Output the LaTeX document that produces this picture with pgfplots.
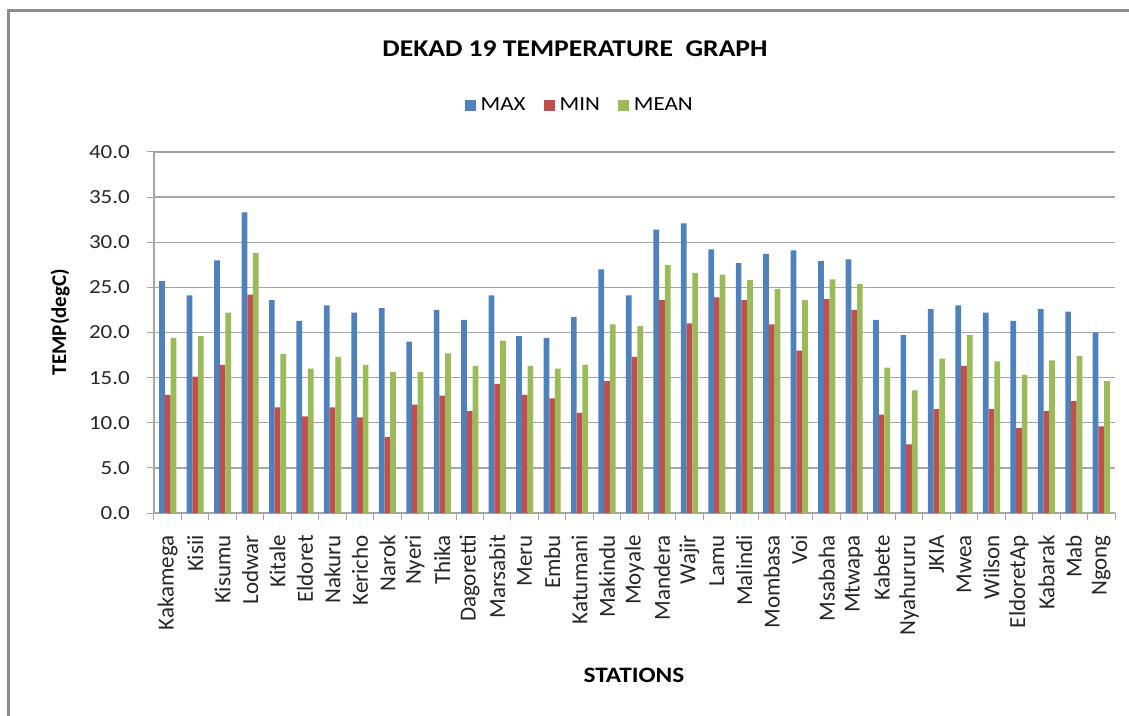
\documentclass[border=0pt]{standalone}
\usepackage{fontspec}
\setmainfont{Carlito}
\newfontfamily\wfont{Carlito}[FakeStretch=1.15]
\usepackage{pgfplots}
\usepackage{pgfplotstable}
\pgfplotsset{compat=1.18}
\definecolor{cmax}{HTML}{4F81BD}
\definecolor{cmin}{HTML}{C0504D}
\definecolor{cmean}{HTML}{9BBB59}
\definecolor{gridc}{HTML}{A6A6A6}
\definecolor{framec}{HTML}{8C8C8C}
\pgfplotstableread{
idx max min mean
0 25.7 13.1 19.4
1 24.1 15.1 19.6
2 28.0 16.4 22.2
3 33.3 24.2 28.8
4 23.6 11.7 17.6
5 21.3 10.7 16.0
6 23.0 11.7 17.3
7 22.2 10.6 16.4
8 22.7 8.4 15.6
9 19.0 12.0 15.6
10 22.5 13.0 17.7
11 21.4 11.3 16.3
12 24.1 14.3 19.1
13 19.6 13.1 16.3
14 19.4 12.7 16.0
15 21.7 11.1 16.4
16 27.0 14.6 20.9
17 24.1 17.3 20.7
18 31.4 23.6 27.5
19 32.1 21.0 26.6
20 29.2 23.9 26.4
21 27.7 23.6 25.8
22 28.7 20.9 24.8
23 29.1 18.0 23.6
24 27.9 23.7 25.9
25 28.1 22.5 25.4
26 21.4 10.9 16.1
27 19.7 7.6 13.6
28 22.6 11.5 17.1
29 23.0 16.3 19.7
30 22.2 11.5 16.8
31 21.3 9.4 15.3
32 22.6 11.3 16.9
33 22.3 12.4 17.4
34 20.0 9.6 14.6
}\data
\begin{document}
\begin{tikzpicture}[x=1pt,y=1pt]
\path[use as bounding box] (-154,-202) rectangle (975,513);
\draw[line width=3pt, color=framec] (-145,-215) -- (-145,502) -- (990,502);
\begin{axis}[
  at={(0,0)}, anchor=south west,
  scale only axis, width=961pt, height=361pt,
  ybar=0pt, bar width=5.7pt,
  xmin=-0.5, xmax=34.5, ymin=0, ymax=40,
  axis x line*=bottom, axis y line*=left,
  axis line style={draw=gridc, line width=1.3pt},
  ytick={0,5,...,40},
  ymajorgrids, major grid style={draw=gridc, line width=1.3pt},
  tick align=outside, major tick length=7pt, minor tick length=7pt,
  tick style={draw=gridc, line width=1pt},
  xtick={0,...,34},
  major x tick style={draw=none},
  minor xtick={-0.5,0.5,...,34.5},
  xticklabels={Kakamega,Kisii,Kisumu,Lodwar,Kitale,Eldoret,Nakuru,Kericho,Narok,Nyeri,Thika,Dagoretti,Marsabit,Meru,Embu,Katumani,Makindu,Moyale,Mandera,Wajir,Lamu,Malindi,Mombasa,Voi,Msabaha,Mtwapa,Kabete,Nyahururu,JKIA,Mwea,Wilson,EldoretAp,Kabarak,Mab,Ngong},
  xticklabel shift=15pt,
  xticklabel style={rotate=90, anchor=east, inner sep=0pt, font=\fontsize{23}{26}\selectfont, color=black!85},
  yticklabel style={anchor=east, inner sep=0pt, font=\wfont\fontsize{20}{24}\selectfont, color=black!85},
  yticklabel shift=17pt,
  /pgf/number format/.cd, fixed, fixed zerofill, precision=1, assume math mode=true,
  /pgfplots/.cd,
  legend style={at={(0.443,1.130)}, anchor=center, draw=none, fill=none,
    font=\wfont\fontsize{20}{24}\selectfont, legend columns=3,
    /tikz/every even column/.append style={column sep=16pt}},
  legend cell align=left,
]
\addplot[fill=cmax, draw=none, legend image code/.code={\fill[cmax] (0pt,-5.5pt) rectangle (11pt,5.5pt); \path (14pt,0pt);}] table[x=idx, y=max] {\data};
\addplot[fill=cmin, draw=none, legend image code/.code={\fill[cmin] (0pt,-5.5pt) rectangle (11pt,5.5pt); \path (14pt,0pt);}] table[x=idx, y=min] {\data};
\addplot[fill=cmean, draw=none, legend image code/.code={\fill[cmean] (0pt,-5.5pt) rectangle (11pt,5.5pt); \path (14pt,0pt);}] table[x=idx, y=mean] {\data};
\legend{MAX,MIN,MEAN}
\end{axis}
\node[font=\wfont\bfseries\fontsize{24}{28}\selectfont] at (421,464) {DEKAD 19 TEMPERATURE\ \ GRAPH};
\node[font=\wfont\bfseries\fontsize{22}{25}\selectfont] at (480,-162) {STATIONS};
\node[rotate=90, font=\bfseries\fontsize{21}{24}\selectfont] at (-94,191) {TEMP(degC)};
\end{tikzpicture}
\end{document}
